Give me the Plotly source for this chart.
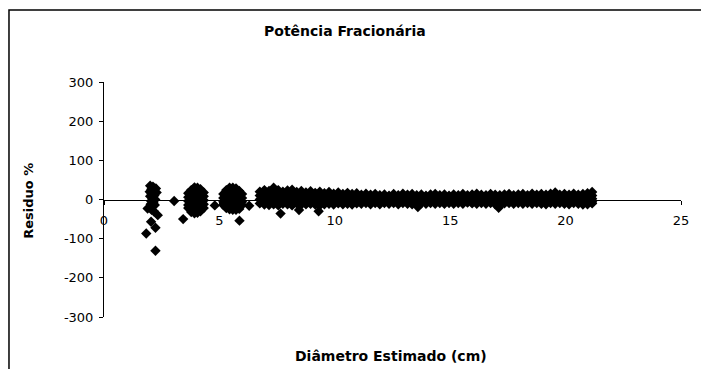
import plotly.graph_objects as go

# ---------------- data ----------------
# early scattered points (small diameters)
diam_inicio = [2.00, 2.12, 2.25, 2.05, 1.98, 2.15, 2.28, 2.06, 2.18, 2.00, 2.10, 2.22,
               2.04, 2.14, 2.02, 2.20, 2.10, 1.89, 2.06, 2.16, 2.33, 2.04, 2.23, 1.83, 2.23,
               3.04, 3.43, 4.80, 5.87, 6.29,
               7.65, 8.45, 9.30, 13.60, 17.10]
res_inicio = [35, 33, 28, 26, 20, 22, 18, 14, 10, 8, 3, 0,
              -4, -8, -12, -14, -18, -23, -26, -30, -40, -57, -72, -87, -131,
              -4, -50, -15, -54, -16,
              -36, -27, -30, -19, -21]

# dense groups of points, one list of residuals per diameter column
diam_col = [3.65, 3.78, 3.92, 4.05, 4.18, 4.32,
            5.17, 5.30, 5.44, 5.58, 5.72, 5.86, 5.98,
            6.75, 6.95, 7.15, 7.35, 7.55, 7.75, 7.95, 8.15, 8.35, 8.55, 8.75, 8.95,
            9.15, 9.35, 9.55, 9.75, 9.95, 10.15, 10.35, 10.55, 10.75, 10.95,
            11.15, 11.35, 11.55, 11.75, 11.95, 12.15, 12.35, 12.55, 12.75, 12.95,
            13.15, 13.35, 13.55, 13.75, 13.95, 14.15, 14.35, 14.55, 14.75, 14.95,
            15.15, 15.35, 15.55, 15.75, 15.95, 16.15, 16.35, 16.55, 16.75, 16.95,
            17.15, 17.35, 17.55, 17.75, 17.95, 18.15, 18.35, 18.55, 18.75, 18.95,
            19.15, 19.35, 19.55, 19.75, 19.95, 20.15, 20.35, 20.55, 20.75, 20.95, 21.15]
res_col = [
    [16, 6, -4, -14, -22], [24, 14, 4, -6, -16, -26, -32], [31, 21, 11, 1, -9, -19, -29, -35],
    [30, 20, 10, 0, -10, -20, -30, -34], [26, 16, 6, -4, -14, -24, -30], [18, 8, -2, -12, -22],
    [14, 4, -6, -14], [24, 14, 4, -6, -16, -22], [30, 20, 10, 0, -10, -20, -25],
    [30, 20, 10, 0, -10, -20, -26], [28, 18, 8, -2, -12, -22, -26], [22, 12, 2, -8, -18, -24],
    [14, 4, -6, -14],
    [20, 10, 0, -10], [24, 14, 4, -6, -13], [22, 12, 2, -8, -14], [30, 18, 8, -2, -12],
    [24, 14, 4, -6, -15], [20, 10, 0, -11], [23, 12, 2, -8, -12], [25, 14, 4, -6, -15],
    [19, 10, 0, -10], [22, 12, 2, -8, -13], [18, 8, -2, -12], [21, 10, 0, -11],
    [17, 8, -2, -13], [20, 10, 0, -10, -15], [16, 6, -4, -12], [19, 8, -2, -11],
    [15, 6, -4, -13], [18, 8, -2, -10], [14, 4, -6, -12], [17, 6, -4, -11],
    [14, 4, -4, -13], [16, 6, -2, -10],
    [12, 4, -4, -11], [15, 6, -2, -9], [12, 4, -4, -12], [14, 5, -3, -9], [11, 3, -5, -12],
    [13, 4, -4, -9], [10, 2, -6, -11], [14, 5, -3, -9], [11, 3, -5, -12], [15, 6, -2, -9],
    [12, 4, -4, -11], [14, 5, -3, -12], [11, 3, -5, -13], [13, 4, -4, -10], [10, 2, -6, -11],
    [13, 4, -4, -9], [14, 5, -3, -11], [11, 3, -5, -9], [13, 4, -4, -11], [10, 2, -6, -9],
    [13, 4, -4, -11], [11, 3, -5, -9], [14, 5, -3, -11], [11, 3, -5, -8], [13, 4, -4, -10],
    [15, 5, -3, -11], [12, 4, -4, -9], [11, 3, -5, -11], [14, 5, -3, -9], [12, 4, -4, -12],
    [11, 3, -5, -13], [13, 4, -4, -10], [14, 5, -3, -9], [11, 3, -5, -11], [13, 4, -4, -9],
    [14, 5, -3, -11], [11, 3, -5, -9], [15, 6, -2, -11], [12, 4, -4, -9], [14, 5, -3, -11],
    [12, 4, -4, -12], [15, 6, -2, -9], [18, 8, -1, -11], [12, 4, -4, -9], [14, 5, -3, -11],
    [12, 4, -4, -12], [15, 6, -2, -9], [12, 4, -4, -11], [14, 5, -3, -13], [16, 6, -3, -12],
    [19, 10, 2, -6, -10],
]

y_ticks = [-300, -200, -100, 0, 100, 200, 300]
x_ticks = [0, 5, 10, 15, 20, 25]

titulo = "Potência Fracionária"
titulo_x = "Diâmetro Estimado (cm)"
titulo_y = "Residuo %"

# ---------------- build ----------------
xs = list(diam_inicio)
ys = list(res_inicio)
for d, rs in zip(diam_col, res_col):
    for r in rs:
        xs.append(d)
        ys.append(r)

FONT = "DejaVu Sans"

fig = go.Figure()
fig.add_trace(go.Scatter(
    x=xs, y=ys, mode="markers",
    marker=dict(symbol="diamond", size=8, color="black", line=dict(width=0)),
    showlegend=False, hoverinfo="skip",
))

fig.update_layout(
    width=701, height=369,
    margin=dict(l=104, r=14, t=82, b=52),
    paper_bgcolor="white", plot_bgcolor="white",
    font=dict(family=FONT, size=13, color="black"),
    xaxis=dict(
        range=[0, 25], tickvals=x_ticks, ticktext=[str(v) for v in x_ticks],
        anchor="free", position=0.5,
        showline=True, linecolor="black", linewidth=1,
        ticks="outside", ticklen=4, tickcolor="black", tickwidth=1,
        showgrid=False, zeroline=False,
        tickfont=dict(family=FONT, size=13, color="black"),
        ticklabelstandoff=5,
    ),
    yaxis=dict(
        range=[-300, 300], tickvals=y_ticks, ticktext=[str(v) for v in y_ticks],
        showline=True, linecolor="black", linewidth=1,
        ticks="outside", ticklen=4, tickcolor="black", tickwidth=1,
        showgrid=False, zeroline=False,
        tickfont=dict(family=FONT, size=13, color="black"),
        ticklabelstandoff=3,
    ),
    shapes=[dict(type="rect", xref="paper", yref="paper",
                 x0=(8 - 104) / 583, x1=1.2, y0=-0.6, y1=(317 - 10) / 235,
                 line=dict(color="black", width=1.5), fillcolor="rgba(0,0,0,0)",
                 layer="below")],
    annotations=[
        dict(text=titulo, xref="paper", yref="paper",
             x=(348 - 104) / 583, y=(317 - 31) / 235, xanchor="center", yanchor="middle",
             showarrow=False, font=dict(family=FONT, size=14, color="black", weight="bold")),
        dict(text=titulo_x, xref="paper", yref="paper",
             x=(394 - 104) / 583, y=(317 - 356) / 235, xanchor="center", yanchor="middle",
             showarrow=False, font=dict(family=FONT, size=14, color="black", weight="bold")),
        dict(text=titulo_y, xref="paper", yref="paper", textangle=-90,
             x=(27 - 104) / 583, y=(317 - 201) / 235, xanchor="center", yanchor="middle",
             showarrow=False, font=dict(family=FONT, size=13, color="black", weight="bold")),
    ],
)

fig.write_html("out.html")
